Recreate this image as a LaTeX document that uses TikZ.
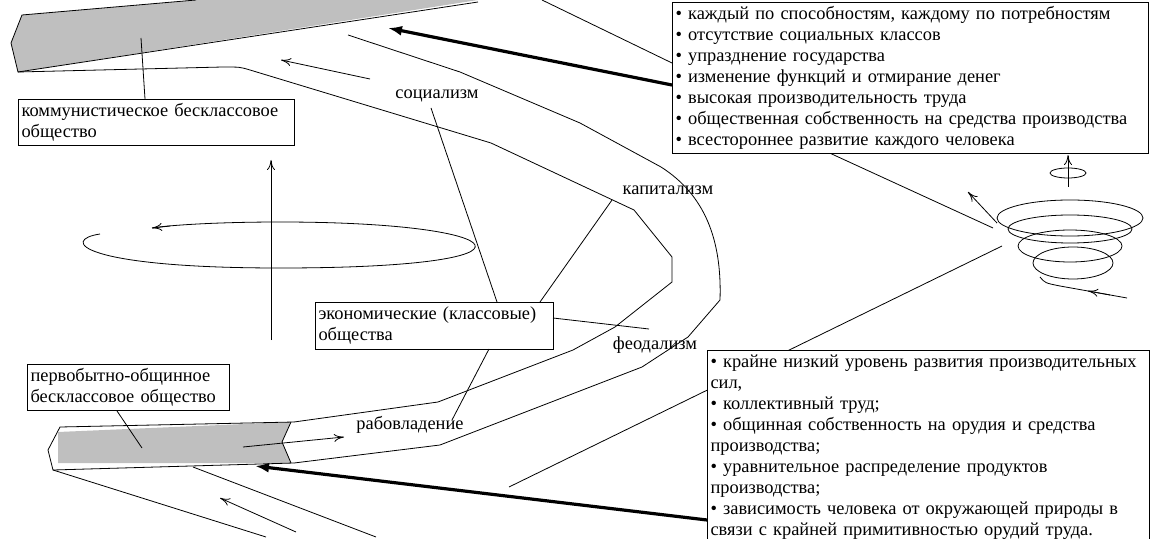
\documentclass[tikz,border=0pt]{standalone}
\usepackage{fontspec}
\setmainfont{Liberation Serif}
\usetikzlibrary{arrows.meta}
\begin{document}
\begin{tikzpicture}[x=0.5pt,y=-0.5pt,
 lbl/.style={font=\fontsize{9.2}{10.5}\selectfont,inner sep=0pt},
 boxed/.style={draw,fill=white,line width=0.5pt,font=\fontsize{9.2}{10.5}\selectfont,align=left,anchor=north west,inner xsep=1.5pt,inner ysep=2pt},
 thin/.style={line width=0.4pt},
 thickarr/.style={line width=1.6pt,-{Latex[length=7pt,width=5pt]}},
 openarr/.style={line width=0.4pt,-{To[length=5pt,width=4pt]}}]
\useasboundingbox (0,0) rectangle (1154,539);
% top gray band
\fill[gray!50] (22,15) -- (196,0) -- (478,0) -- (18,72) -- (11,43) -- cycle;
\draw[thin] (196,0) -- (22,15) -- (11,43) -- (18,72) -- (478,2);
% outer curve
\draw[thin] (18,72) -- (223,67) .. controls (240,67) .. (250,70) -- (491,143) -- (634,210) -- (672,257) -- (672,282) -- (615,327) -- (573,350) -- (438,402) -- (294,422);
% inner curve
\draw[thin] (348,35) -- (460,72) -- (580,123) -- (661,167) .. controls (705,195) and (722,240) .. (720,300) -- (688,337) -- (642,367) -- (440,445) -- (294,463);
% bottom gray band
\fill[gray!50] (58,432) -- (291,422) -- (282,442) -- (291,463) -- (58,463) -- cycle;
\draw[thin] (294,422) -- (60,427) -- (48,450) -- (53,470) -- (294,463);
\draw[thin] (291,422) -- (282,442) -- (291,463);
\draw[thin] (53,470) -- (266,537);
\draw[thin] (193,467) -- (376,537);
\draw[openarr] (296,532) -- (220,498);
\draw[openarr] (243,447) -- (344,437);
\draw[openarr] (370,79) -- (281,60);
% vertical axis and ellipse
\draw[openarr] (271,340) -- (271,160);
\draw[thin] (100,234) .. controls (60,240) and (80,268) .. (280,268) .. controls (560,268) and (520,222) .. (280,222) .. controls (220,222) and (170,225) .. (152,228);
\draw[openarr] (170,226) -- (152,228);
% connector lines
\draw[thin] (141,38) -- (145,99);
\draw[thin] (115,408) -- (142,448);
\draw[thin] (542,0) -- (672,63);
\draw[thin] (509,487) -- (1002,246);
\draw[thin] (823,150) -- (993,228);
% labels
\node[lbl] (soc) at (437,96) {социализм};
\node[lbl] (cap) at (668,190) {капитализм};
\node[lbl] (feo) at (655,345) {феодализм};
\node[lbl] (rab) at (410,425) {рабовладение};
\node[boxed,text width=116pt,minimum height=23.5pt] (eco) at (315,302) {экономические (классовые)\\общества};
\draw[thin] (431,108) -- (497,302);
\draw[thin] (612,200) -- (540,302);
\draw[thin] (553,318) -- (649,329);
\draw[thin] (489,349) -- (452,420);
\node[boxed,text width=135pt,minimum height=21.5pt] (com) at (18,99) {коммунистическое бесклассовое\\общество};
\node[boxed,text width=98pt,minimum height=21.5pt] (pri) at (27,364) {первобытно-общинное\\бесклассовое общество};
% spiral
\draw[thin] (1070,218) ellipse (73 and 18);
\draw[thin] (1070,229) ellipse (62 and 14);
\draw[thin] (1070,246) ellipse (52 and 16);
\draw[thin] (1073,263) ellipse (40 and 16);
\draw[thin] (1127,298) -- (1060,286) .. controls (1045,283) .. (1040,277);
\draw[openarr] (1110,295) -- (1088,291);
\draw[openarr] (997,223) -- (968,192);
\draw[thin] (1068,173) ellipse (18 and 5);
\draw[openarr] (1068,187) -- (1068,155);
% right boxes
\node[boxed,text width=235pt,minimum height=75pt] (top) at (672,2) {• каждый по способностям, каждому по потребностям\\• отсутствие социальных классов\\• упразднение государства\\• изменение функций и отмирание денег\\• высокая производительность труда\\• общественная собственность на средства производства\\• всестороннее развитие каждого человека};
\node[boxed,text width=218pt,minimum height=93.5pt] (bot) at (707,350) {• крайне низкий уровень развития производительных\\сил,\\• коллективный труд;\\• общинная собственность на орудия и средства\\производства;\\• уравнительное распределение продуктов\\производства;\\• зависимость человека от окружающей природы в\\связи с крайней примитивностью орудий труда.};
\draw[thickarr] (top.west |- 0,85) -- (388,28);
\draw[thickarr] (bot.west |- 0,520) -- (255,466);
\end{tikzpicture}
\end{document}
